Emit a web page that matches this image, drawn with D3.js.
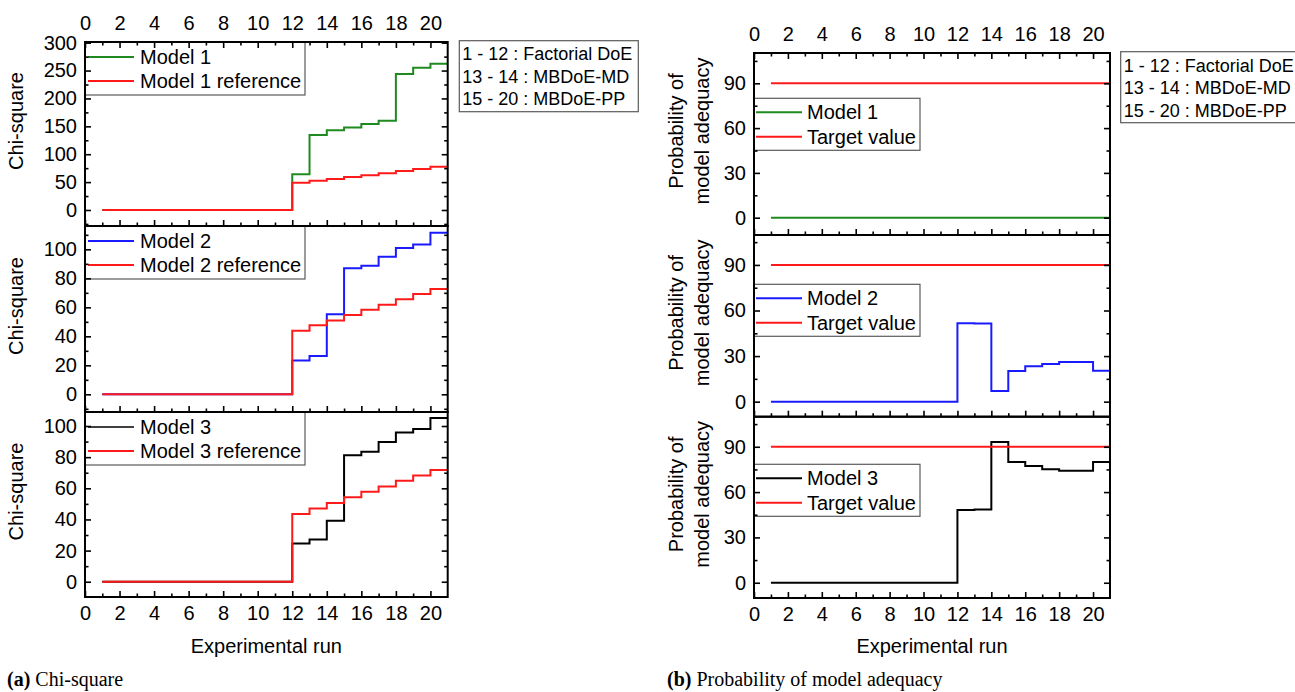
<!DOCTYPE html>
<meta charset="utf-8">
<style>

body {
  margin: 0;
  background: #fff;
}

svg {
  display: block;
  font-family: "Liberation Sans", Arial, sans-serif;
}

.tick text {
  font-size: 20px;
  fill: #000;
}

.tick line {
  stroke: #000;
  stroke-width: 1.6px;
}

.frame {
  fill: none;
  stroke: #000;
  stroke-width: 2px;
}

.legend rect {
  fill: #fff;
  stroke: #5a5a5a;
  stroke-width: 1.2px;
}

.legend text, .title {
  font-size: 20px;
}

.info rect {
  fill: #fff;
  stroke: #5a5a5a;
  stroke-width: 1.2px;
}

.info text {
  font-size: 18px;
}

.caption {
  font-family: "Liberation Serif", serif;
  font-size: 20px;
}

.series {
  fill: none;
  stroke-width: 2px;
}

</style>
<body>
<script src="https://d3js.org/d3.v7.min.js"></script>
<script>

// experimental runs (last point just closes the final step)
var runs = [1, 2, 3, 4, 5, 6, 7, 8, 9, 10, 11, 12, 13, 14, 15, 16, 17, 18, 19, 20, 21];

// chi-square values
var chiModel1 = [0, 0, 0, 0, 0, 0, 0, 0, 0, 0, 0, 64, 134.5, 143, 148, 154, 160, 244, 255, 262, 262];
var chiRef1   = [0, 0, 0, 0, 0, 0, 0, 0, 0, 0, 0, 49, 52.5, 55.6, 59.2, 62.2, 65.8, 69.9, 73.5, 77.6, 77.6];
var chiModel2 = [0, 0, 0, 0, 0, 0, 0, 0, 0, 0, 0, 23.4, 26.4, 55.2, 86.9, 88.7, 94.9, 100.9, 103.4, 111.5, 111.5];
var chiRef2   = [0, 0, 0, 0, 0, 0, 0, 0, 0, 0, 0, 43.9, 47.6, 51, 54.7, 58.4, 61.8, 65.5, 69.2, 72.6, 72.6];
var chiModel3 = [0, 0, 0, 0, 0, 0, 0, 0, 0, 0, 0, 24.6, 27.2, 39.2, 81.2, 83.5, 89.7, 95.9, 98.1, 105.1, 105.1];
var chiRef3   = [0, 0, 0, 0, 0, 0, 0, 0, 0, 0, 0, 43.5, 47.1, 50.5, 54.2, 57.8, 61.2, 64.9, 68.3, 71.7, 71.7];

// probability of model adequacy
var probModel1 = [0, 0, 0, 0, 0, 0, 0, 0, 0, 0, 0, 0, 0, 0, 0, 0, 0, 0, 0, 0, 0];
var probModel2 = [0, 0, 0, 0, 0, 0, 0, 0, 0, 0, 0, 51.6, 51.4, 7, 20.2, 23.3, 24.8, 26.1, 26.1, 20.4, 20.4];
var probModel3 = [0, 0, 0, 0, 0, 0, 0, 0, 0, 0, 0, 48.1, 48.5, 93.1, 79.9, 77.2, 75.2, 74.1, 74.1, 79.9, 79.9];
var target     = [90, 90, 90, 90, 90, 90, 90, 90, 90, 90, 90, 90, 90, 90, 90, 90, 90, 90, 90, 90, 90];

// ticks
var xMajor = [0, 2, 4, 6, 8, 10, 12, 14, 16, 18, 20];
var xMinor = [1, 3, 5, 7, 9, 11, 13, 15, 17, 19];
var chiMajor = [[0, 50, 100, 150, 200, 250, 300], [0, 20, 40, 60, 80, 100], [0, 20, 40, 60, 80, 100]];
var chiMinor = [[-25, 25, 75, 125, 175, 225, 275], [-10, 10, 30, 50, 70, 90, 110], [10, 30, 50, 70, 90]];
var probMajor = [0, 30, 60, 90];
var probMinor = [15, 45, 75, 105];

var chiDomains = [[-28.7, 301.2], [-12.2, 116.1], [-9.8, 109]];
var probDomains = [[-11.6, 110.3], [-9.9, 109.7], [-10.1, 109.9]];

var infoLines = ["1 - 12 : Factorial DoE", "13 - 14 : MBDoE-MD", "15 - 20 : MBDoE-PP"];

var green = "#1f8a1f", red = "#ff1a1a", blue = "#1a1aff", black = "#000";

var width = 1295, height = 692;

var svg = d3.select("body").append("svg")
    .attr("width", width)
    .attr("height", height);

var columns = [
  {
    x0: 85, x1: 447.7,
    tops: [42, 226, 412], bottoms: [226, 412, 597],
    titleX: [23], titleLines: ["Chi-square"],
    legendW: 220, legendOff: [0, 0, 0], legendH: 53, rowY: [15, 39], lineX: [3, 49], textX: 55,
    info: {x: 459.3, y: 40.7, w: 179, h: 71, base: 60},
    xLabel: "Experimental run",
    caption: ["(a)", " Chi-square"], captionX: 7,
    panels: [
      {domain: chiDomains[0], major: chiMajor[0], minor: chiMinor[0],
       series: [{v: chiModel1, c: green, w: 2, name: "Model 1"}, {v: chiRef1, c: red, w: 2, name: "Model 1 reference"}]},
      {domain: chiDomains[1], major: chiMajor[1], minor: chiMinor[1],
       series: [{v: chiModel2, c: blue, w: 2, name: "Model 2"}, {v: chiRef2, c: red, w: 2, name: "Model 2 reference"}]},
      {domain: chiDomains[2], major: chiMajor[2], minor: chiMinor[2],
       series: [{v: chiModel3, c: black, w: 1.3, name: "Model 3"}, {v: chiRef3, c: red, w: 2, name: "Model 3 reference"}]}
    ]
  },
  {
    x0: 754, x1: 1110,
    tops: [53, 235, 416.7], bottoms: [235, 416.7, 598],
    titleX: [683, 709], titleLines: ["Probability of", "model adequacy"],
    legendW: 166, legendOff: [45.3, 49.3, 47.6], legendH: 52, rowY: [14, 38.4], lineX: [2, 48], textX: 53,
    info: {x: 1120.7, y: 51.7, w: 179, h: 71, base: 71.7},
    xLabel: "Experimental run",
    caption: ["(b)", " Probability of model adequacy"], captionX: 667,
    panels: [
      {domain: probDomains[0], major: probMajor, minor: probMinor,
       series: [{v: probModel1, c: green, w: 2, name: "Model 1"}, {v: target, c: red, w: 2, name: "Target value"}]},
      {domain: probDomains[1], major: probMajor, minor: probMinor,
       series: [{v: probModel2, c: blue, w: 2, name: "Model 2"}, {v: target, c: red, w: 2, name: "Target value"}]},
      {domain: probDomains[2], major: probMajor, minor: probMinor,
       series: [{v: probModel3, c: black, w: 2, name: "Model 3"}, {v: target, c: red, w: 2, name: "Target value"}]}
    ]
  }
];

columns.forEach(function(col) {
  var x = d3.scaleLinear().domain([0, 21]).range([col.x0, col.x1]);

  col.panels.forEach(function(p, i) {
    var top = col.tops[i], bottom = col.bottoms[i];
    var y = d3.scaleLinear().domain(p.domain).range([bottom, top]);
    var g = svg.append("g");

    // series
    var line = d3.line()
        .x(function(d, j) { return x(runs[j]); })
        .y(function(d) { return y(d); })
        .curve(d3.curveStepAfter);

    p.series.forEach(function(s) {
      g.append("path")
          .datum(s.v)
          .attr("class", "series")
          .attr("stroke", s.c)
          .attr("stroke-width", s.w)
          .attr("d", line);
    });

    // legend
    var lg = g.append("g").attr("class", "legend")
        .attr("transform", "translate(" + col.x0 + "," + (top + col.legendOff[i]) + ")");
    lg.append("rect").attr("width", col.legendW).attr("height", col.legendH);
    p.series.forEach(function(s, k) {
      lg.append("line")
          .attr("x1", col.lineX[0]).attr("x2", col.lineX[1])
          .attr("y1", col.rowY[k]).attr("y2", col.rowY[k])
          .attr("stroke", s.c).attr("stroke-width", s.w);
      lg.append("text")
          .attr("x", col.textX).attr("y", col.rowY[k]).attr("dy", "0.36em")
          .text(s.name);
    });

    // y axes (ticks inward)
    var yl = g.append("g").attr("transform", "translate(" + col.x0 + ",0)")
        .call(d3.axisLeft(y).tickValues(p.major).tickSize(-6).tickPadding(8));
    g.append("g").attr("transform", "translate(" + col.x0 + ",0)")
        .call(d3.axisLeft(y).tickValues(p.minor).tickSize(-3.5).tickFormat(""));
    g.append("g").attr("transform", "translate(" + col.x1 + ",0)")
        .call(d3.axisRight(y).tickValues(p.major).tickSize(-6).tickFormat(""));
    g.append("g").attr("transform", "translate(" + col.x1 + ",0)")
        .call(d3.axisRight(y).tickValues(p.minor).tickSize(-3.5).tickFormat(""));

    // x axes
    var xb = g.append("g").attr("transform", "translate(0," + bottom + ")")
        .call(d3.axisBottom(x).tickValues(xMajor).tickSize(-6).tickPadding(9));
    g.append("g").attr("transform", "translate(0," + bottom + ")")
        .call(d3.axisBottom(x).tickValues(xMinor).tickSize(-3.5).tickFormat(""));
    if (i < 2) xb.selectAll("text").remove();
    if (i === 0) {
      g.append("g").attr("transform", "translate(0," + top + ")")
          .call(d3.axisTop(x).tickValues(xMajor).tickSize(-6).tickPadding(12));
      g.append("g").attr("transform", "translate(0," + top + ")")
          .call(d3.axisTop(x).tickValues(xMinor).tickSize(-3.5).tickFormat(""));
    }

    // frame
    g.append("rect").attr("class", "frame")
        .attr("x", col.x0).attr("y", top)
        .attr("width", col.x1 - col.x0).attr("height", bottom - top);

    // y title
    var cy = (top + bottom) / 2 - 13;
    col.titleLines.forEach(function(t, k) {
      g.append("text").attr("class", "title")
          .attr("transform", "translate(" + col.titleX[k] + "," + cy + ")rotate(-90)")
          .attr("text-anchor", "middle")
          .text(t);
    });
  });

  svg.selectAll(".domain").remove();

  // x label
  svg.append("text").attr("class", "title")
      .attr("x", (col.x0 + col.x1) / 2).attr("y", 653)
      .attr("text-anchor", "middle")
      .text(col.xLabel);

  // info box
  var ib = svg.append("g").attr("class", "info");
  ib.append("rect").attr("x", col.info.x).attr("y", col.info.y)
      .attr("width", col.info.w).attr("height", col.info.h);
  infoLines.forEach(function(t, k) {
    ib.append("text").attr("x", col.info.x + 3).attr("y", col.info.base + k * 22.5).text(t);
  });

  // caption
  var cap = svg.append("text").attr("class", "caption")
      .attr("x", col.captionX).attr("y", 686);
  cap.append("tspan").attr("font-weight", "bold").text(col.caption[0]);
  cap.append("tspan").text(col.caption[1]);
});

</script>
